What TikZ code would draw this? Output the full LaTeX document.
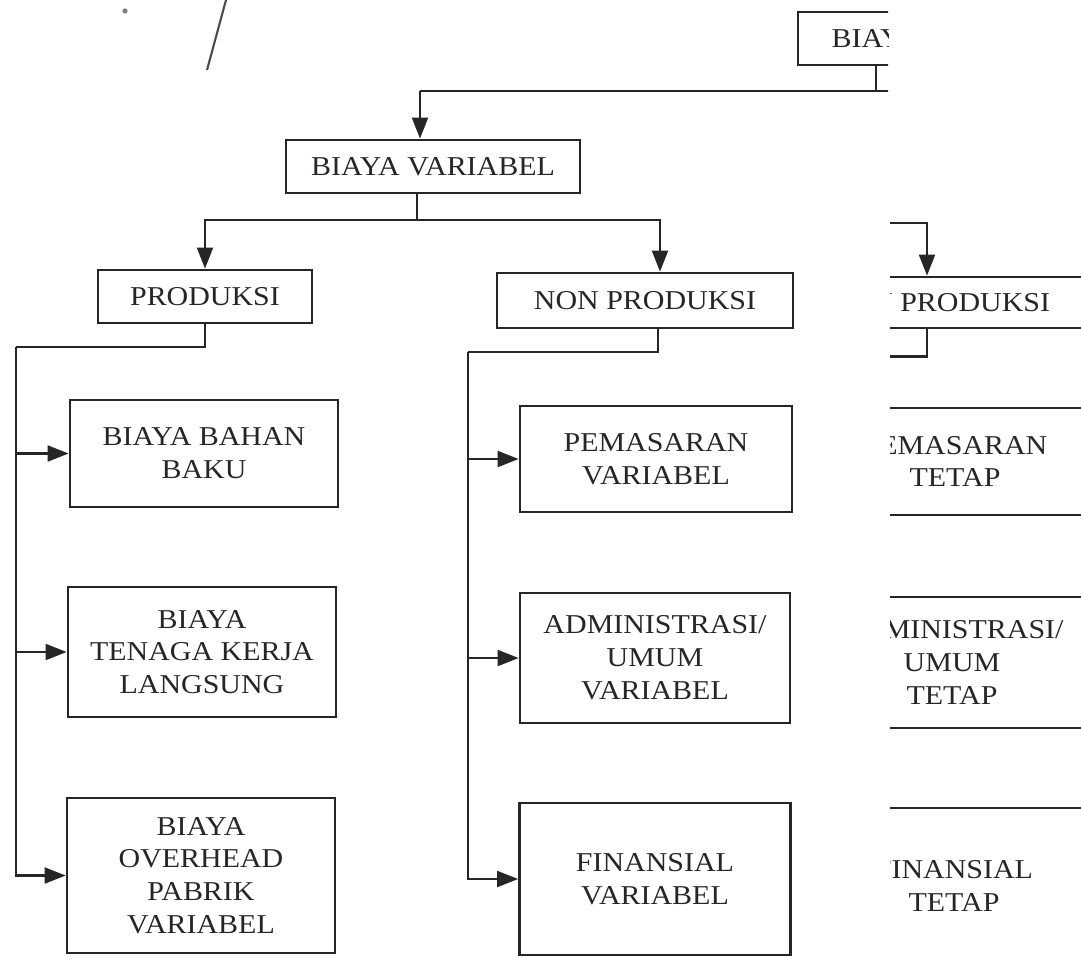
\documentclass[tikz,border=0pt]{standalone}
\usepackage{fontspec}
\setmainfont[FakeStretch=1.1]{Liberation Serif}
\usetikzlibrary{arrows.meta}

\tikzset{
  box/.style 2 args={draw, line width=1.5pt, align=center, inner sep=0pt,
    minimum width=#1*0.02cm, minimum height=#2*0.02cm,
    font=\fontsize{15.5}{18.7}\selectfont},
  link/.style={line width=1.5pt},
  arr/.style={link, -{Triangle[length=12pt,width=9pt]}},
}

\begin{document}
\begin{tikzpicture}[x=0.02cm, y=-0.02cm, black!85]
    \useasboundingbox (0,0) rectangle (1081,961);
    % pen marks on the scan
    \draw[line width=1.2pt, black!70] (207,70) -- (226,0);
    \fill[black!50] (125,11) circle (1.5pt);

    % variable cost branch
    \node[box={294}{53}] (varbox) at (433,166.5) {BIAYA VARIABEL};
    \node[box={214}{53}] (prod) at (205,296.5) {PRODUKSI};
    \node[box={296}{55}] (non) at (645,300.5) {NON PRODUKSI};
    \node[box={268}{107}] (b1) at (204,453.5) {BIAYA BAHAN\\BAKU};
    \node[box={268}{130}] (b2) at (202,652) {BIAYA\\TENAGA KERJA\\LANGSUNG};
    \node[box={268}{155}] (b3) at (201,875.5) {BIAYA\\OVERHEAD\\PABRIK\\VARIABEL};
    \node[box={272}{106}] (m1) at (656,459) {PEMASARAN\\VARIABEL};
    \node[box={270}{130}] (m2) at (655,658) {ADMINISTRASI/\\UMUM\\VARIABEL};
    \node[box={271}{152}] (m3) at (655,879) {FINANSIAL\\VARIABEL};

    % top box, cut at the edge of the page
    \begin{scope}
        \clip (0,0) rectangle (888,200);
        \node[box={156}{53}] (biaya) at (876,38.5) {BIAYA};
        \coordinate (top) at (420,91);
        \draw[link] (biaya.south) -- (biaya.south |- top);
        \draw[link] (top) -- ++(600,0);
        \draw[arr] (top) -- (varbox.north -| top);
    \end{scope}

    \coordinate (vsplit) at (417,220);
    \coordinate (nsplit) at (660,220);
    \draw[link] (varbox.south -| vsplit) -- (vsplit);
    \draw[arr] (vsplit) -| (prod.north);
    \draw[arr] (vsplit) -- (nsplit) -- (non.north -| nsplit);

    \coordinate (pspine) at (16,347);
    \draw[link] (prod.south) |- (pspine);
    \foreach \b in {b1,b2,b3}
        \draw[arr] (pspine) -- (pspine |- \b.west) -- (\b.west);

    \coordinate (nspine) at (468,352);
    \draw[link] (non.south -| 658,0) |- (nspine);
    \foreach \b in {m1,m2,m3}
        \draw[arr] (nspine) -- (nspine |- \b.west) -- (\b.west);

    % fixed cost branch, only its right part is on the scan
    \begin{scope}
        \clip (890,200) rectangle (1081,961);
        \node[box={296}{51}] (rnon) at (939,302.5) {NON PRODUKSI};
        \node[box={272}{107}] (r1) at (955,461.5) {PEMASARAN\\TETAP};
        \node[box={272}{131}] (r2) at (952,662.5) {ADMINISTRASI/\\UMUM\\TETAP};
        \node[box={272}{156}] (r3) at (954,886) {FINANSIAL\\TETAP};
        \coordinate (rsplit) at (927,223);
        \draw[arr] ([xshift=-4cm]rsplit) -- (rsplit) -- (rnon.north -| rsplit);
        \draw[link] (rnon.south -| rsplit) -- ++(0,27) -- ++(-200,0);
    \end{scope}
\end{tikzpicture}
\end{document}
